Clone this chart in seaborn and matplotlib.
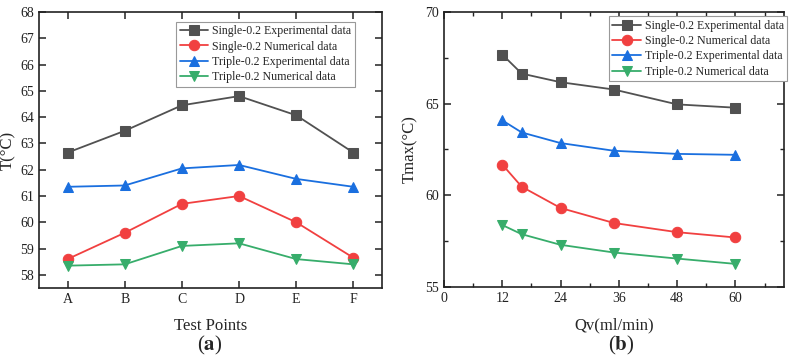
import numpy as np
import matplotlib
matplotlib.use('Agg')
import matplotlib.pyplot as plt
import seaborn as sns
from matplotlib.ticker import MultipleLocator

# data (a)
points = ['A', 'B', 'C', 'D', 'E', 'F']
single_exp_a = [62.65, 63.48, 64.45, 64.80, 64.07, 62.65]
single_num_a = [58.60, 59.60, 60.70, 61.00, 60.00, 58.65]
triple_exp_a = [61.35, 61.40, 62.05, 62.18, 61.65, 61.35]
triple_num_a = [58.35, 58.40, 59.10, 59.20, 58.60, 58.40]

# data (b)
qv = [12, 16, 24, 35, 48, 60]
single_exp_b = [67.68, 66.64, 66.17, 65.77, 64.96, 64.78]
single_num_b = [61.68, 60.47, 59.31, 58.49, 57.99, 57.70]
triple_exp_b = [64.09, 63.43, 62.85, 62.43, 62.26, 62.21]
triple_num_b = [58.38, 57.88, 57.30, 56.88, 56.55, 56.26]

names = ['Single-0.2 Experimental data', 'Single-0.2 Numerical data',
         'Triple-0.2 Experimental data', 'Triple-0.2 Numerical data']
colors = ['#515151', '#F14040', '#1A6FDF', '#37AD6B']
markers = ['s', 'o', '^', 'v']

sns.set_style('ticks')
plt.rcParams['font.family'] = ['Liberation Serif', 'DejaVu Serif']
plt.rcParams['mathtext.fontset'] = 'stix'

fig = plt.figure(figsize=(7.91, 3.6), dpi=100)
ax1 = fig.add_axes([0.0493, 0.200, 0.4336, 0.7667])
ax2 = fig.add_axes([0.5613, 0.2028, 0.4298, 0.7639])

xpos = np.arange(len(points))
series_a = [single_exp_a, single_num_a, triple_exp_a, triple_num_a]
for vals, nm, c, m in zip(series_a, names, colors, markers):
    sns.lineplot(x=xpos, y=vals, ax=ax1, color=c, marker=m, markersize=7.5,
                 markeredgecolor=c, linewidth=1.3, label=nm)

series_b = [single_exp_b, single_num_b, triple_exp_b, triple_num_b]
for vals, nm, c, m in zip(series_b, names, colors, markers):
    sns.lineplot(x=qv, y=vals, ax=ax2, color=c, marker=m, markersize=7.5,
                 markeredgecolor=c, linewidth=1.3, label=nm)

# axes (a)
ax1.set_xlim(-0.5, 5.5)
ax1.set_ylim(57.5, 68)
ax1.set_xticks(xpos)
ax1.set_xticklabels(points)
ax1.yaxis.set_major_locator(MultipleLocator(1))
ax1.set_xlabel('Test Points', fontsize=12, labelpad=9)
ax1.set_ylabel('T(°C)', fontsize=12, labelpad=3)

# axes (b)
ax2.set_xlim(0, 70)
ax2.set_ylim(55, 70)
ax2.set_xticks([0, 12, 24, 36, 48, 60])
ax2.xaxis.set_minor_locator(MultipleLocator(6))
ax2.yaxis.set_major_locator(MultipleLocator(5))
ax2.yaxis.set_minor_locator(MultipleLocator(2.5))
ax2.set_xlabel('Qv(ml/min)', fontsize=12, labelpad=9)
ax2.set_ylabel('Tmax(°C)', fontsize=12, labelpad=5)

for ax in (ax1, ax2):
    for s in ax.spines.values():
        s.set_linewidth(1.2)
        s.set_color('#222222')
    ax.tick_params(which='major', direction='in', length=5, width=1.1,
                   top=True, right=True, labelsize=10, colors='#222222')
    ax.tick_params(which='minor', direction='in', length=3, width=1.0,
                   top=True, right=True, colors='#222222')
    ax.grid(False)

leg_kw = dict(fontsize=8.6, frameon=True, fancybox=False, edgecolor='#999999',
              framealpha=1, handlelength=2.4, handletextpad=0.3,
              labelspacing=0.28, borderpad=0.3, borderaxespad=0)
ax1.legend(loc='upper left', bbox_to_anchor=(0.40, 0.965), **leg_kw)
ax2.legend(loc='upper left', bbox_to_anchor=(0.485, 0.985), **leg_kw)
for leg in (ax1.get_legend(), ax2.get_legend()):
    leg.get_frame().set_linewidth(0.8)

fig.text(0.2655, 0.04, r'($\mathbf{a}$)', ha='center', va='center', fontsize=15)
fig.text(0.785, 0.04, r'($\mathbf{b}$)', ha='center', va='center', fontsize=15)

fig.savefig('out.png', dpi=100)
